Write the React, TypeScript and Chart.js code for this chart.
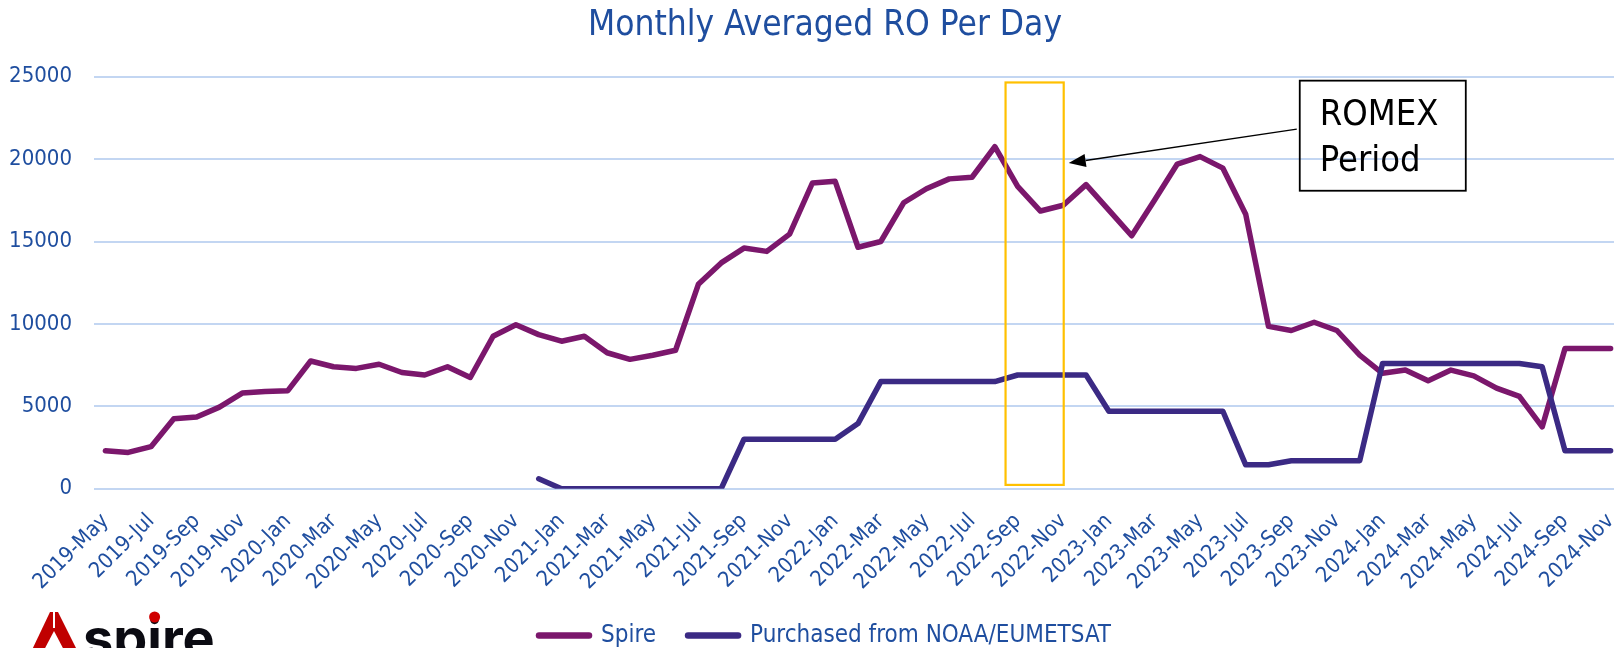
import React, { useEffect, useRef } from 'react';
import { Chart, registerables } from 'chart.js';

Chart.register(...registerables);

// ---------- data ----------
const months: string[] = [
  '2019-May', '2019-Jun', '2019-Jul', '2019-Aug', '2019-Sep', '2019-Oct', '2019-Nov', '2019-Dec',
  '2020-Jan', '2020-Feb', '2020-Mar', '2020-Apr', '2020-May', '2020-Jun', '2020-Jul', '2020-Aug', '2020-Sep', '2020-Oct', '2020-Nov', '2020-Dec',
  '2021-Jan', '2021-Feb', '2021-Mar', '2021-Apr', '2021-May', '2021-Jun', '2021-Jul', '2021-Aug', '2021-Sep', '2021-Oct', '2021-Nov', '2021-Dec',
  '2022-Jan', '2022-Feb', '2022-Mar', '2022-Apr', '2022-May', '2022-Jun', '2022-Jul', '2022-Aug', '2022-Sep', '2022-Oct', '2022-Nov', '2022-Dec',
  '2023-Jan', '2023-Feb', '2023-Mar', '2023-Apr', '2023-May', '2023-Jun', '2023-Jul', '2023-Aug', '2023-Sep', '2023-Oct', '2023-Nov', '2023-Dec',
  '2024-Jan', '2024-Feb', '2024-Mar', '2024-Apr', '2024-May', '2024-Jun', '2024-Jul', '2024-Aug', '2024-Sep', '2024-Oct', '2024-Nov',
];

const spireValues: number[] = [
  2300, 2200, 2550, 4250, 4350, 4950, 5800, 5900,
  5950, 7750, 7400, 7300, 7550, 7050, 6900, 7400, 6750, 9250, 9950, 9350,
  8950, 9250, 8250, 7850, 8100, 8400, 12400, 13700, 14600, 14400, 15450, 18550,
  18650, 14650, 15000, 17350, 18200, 18800, 18900, 20750, 18350, 16850, 17200, 18450,
  16900, 15350, 17500, 19700, 20150, 19450, 16650, 9850, 9600, 10100, 9600, 8100,
  7000, 7200, 6550, 7200, 6850, 6100, 5600, 3750, 8500, 8500, 8500,
];

const noaaValues: (number | null)[] = [
  null, null, null, null, null, null, null, null,
  null, null, null, null, null, null, null, null, null, null, null, 600,
  0, 0, 0, 0, 0, 0, 0, 0, 3000, 3000, 3000, 3000,
  3000, 3950, 6500, 6500, 6500, 6500, 6500, 6500, 6900, 6900, 6900, 6900,
  4700, 4700, 4700, 4700, 4700, 4700, 1450, 1450, 1700, 1700, 1700, 1700,
  7600, 7600, 7600, 7600, 7600, 7600, 7600, 7400, 2300, 2300, 2300,
];

const yTickValues: number[] = [0, 5000, 10000, 15000, 20000, 25000];

const seriesNames = ['Spire', 'Purchased from NOAA/EUMETSAT'];
const chartTitle = 'Monthly Averaged RO Per Day';
const noteLines = ['ROMEX', 'Period'];

// ---------- styles / annotation placement ----------
const BLUE = '#1F4E9F';
const SPIRE_COLOR = '#7B176C';
const NOAA_COLOR = '#3B2A84';
const GRID = '#C3D6F2';
const FONT = "'DejaVu Sans Condensed', 'DejaVu Sans', sans-serif";

const romexSpan = { fromIndex: 39.47, toIndex: 42.02, top: 24650, bottom: 230 };
const noteBox = { fromIndex: 52.37, toIndex: 59.65, top: 24760, bottom: 18080 };
const noteText = { index: 53.25, lineValues: [22060, 19270] };
const arrow = { fromIndex: 52.24, fromValue: 21820, toIndex: 42.24, toValue: 19760 };

const overlayPlugin = {
  id: 'overlay',
  afterDraw(chart: any) {
    const { ctx } = chart;
    const x = chart.scales.x;
    const y = chart.scales.y;
    ctx.save();

    // ROMEX period highlight
    const bx0 = x.getPixelForValue(romexSpan.fromIndex);
    const bx1 = x.getPixelForValue(romexSpan.toIndex);
    const by0 = y.getPixelForValue(romexSpan.top);
    const by1 = y.getPixelForValue(romexSpan.bottom);
    ctx.strokeStyle = '#FFC000';
    ctx.lineWidth = 2.2;
    ctx.strokeRect(bx0, by0, bx1 - bx0, by1 - by0);

    // note box
    const nx0 = x.getPixelForValue(noteBox.fromIndex);
    const nx1 = x.getPixelForValue(noteBox.toIndex);
    const ny0 = y.getPixelForValue(noteBox.top);
    const ny1 = y.getPixelForValue(noteBox.bottom);
    ctx.strokeStyle = '#000';
    ctx.lineWidth = 1.8;
    ctx.strokeRect(nx0, ny0, nx1 - nx0, ny1 - ny0);
    ctx.fillStyle = '#000';
    ctx.font = `36px ${FONT}`;
    ctx.textBaseline = 'alphabetic';
    ctx.textAlign = 'left';
    const tx = x.getPixelForValue(noteText.index);
    noteLines.forEach((t, i) => ctx.fillText(t, tx, y.getPixelForValue(noteText.lineValues[i])));

    // arrow
    const ax0 = x.getPixelForValue(arrow.fromIndex);
    const ay0 = y.getPixelForValue(arrow.fromValue);
    const ax1 = x.getPixelForValue(arrow.toIndex);
    const ay1 = y.getPixelForValue(arrow.toValue);
    const ang = Math.atan2(ay1 - ay0, ax1 - ax0);
    const headLen = 17;
    const headHalf = 6.5;
    const bxh = ax1 - Math.cos(ang) * headLen;
    const byh = ay1 - Math.sin(ang) * headLen;
    ctx.lineWidth = 1.4;
    ctx.beginPath();
    ctx.moveTo(ax0, ay0);
    ctx.lineTo(bxh, byh);
    ctx.stroke();
    ctx.beginPath();
    ctx.moveTo(ax1, ay1);
    ctx.lineTo(bxh + Math.sin(ang) * headHalf, byh - Math.cos(ang) * headHalf);
    ctx.lineTo(bxh - Math.sin(ang) * headHalf, byh + Math.cos(ang) * headHalf);
    ctx.closePath();
    ctx.fill();

    // logo (bottom-left)
    ctx.fillStyle = '#C00000';
    ctx.beginPath();
    ctx.moveTo(31, 652);
    ctx.lineTo(50, 612);
    ctx.lineTo(58, 612);
    ctx.lineTo(78, 652);
    ctx.closePath();
    ctx.fill();
    ctx.fillStyle = '#FFFFFF';
    ctx.beginPath();
    ctx.moveTo(43, 652);
    ctx.lineTo(54, 631);
    ctx.lineTo(65, 652);
    ctx.closePath();
    ctx.fill();
    ctx.fillRect(53, 611, 2, 17);

    ctx.fillStyle = '#0B0B12';
    ctx.font = "700 54px Inter, 'Open Sans', sans-serif";
    ctx.fillText('spire', 83, 657);
    const dotX = 83 + ctx.measureText('sp').width + ctx.measureText('i').width / 2;
    ctx.fillStyle = '#D00000';
    ctx.beginPath();
    ctx.arc(dotX, 617, 5.5, 0, Math.PI * 2);
    ctx.fill();

    ctx.restore();
  },
};

export default function App() {
  const ref = useRef<HTMLCanvasElement>(null);

  useEffect(() => {
    const canvas = ref.current;
    if (!canvas) return;
    const baseLabels = (Chart as any).defaults.plugins.legend.labels.generateLabels;
    const chart = new Chart(canvas, {
      type: 'line',
      data: {
        labels: months,
        datasets: [
          {
            label: seriesNames[0],
            data: spireValues,
            borderColor: SPIRE_COLOR,
            backgroundColor: SPIRE_COLOR,
            borderWidth: 5.5,
            pointRadius: 0,
            pointHoverRadius: 0,
            tension: 0,
            borderCapStyle: 'round',
            borderJoinStyle: 'round',
            order: 1,
          },
          {
            label: seriesNames[1],
            data: noaaValues,
            borderColor: NOAA_COLOR,
            backgroundColor: NOAA_COLOR,
            borderWidth: 5.5,
            pointRadius: 0,
            pointHoverRadius: 0,
            tension: 0,
            borderCapStyle: 'round',
            borderJoinStyle: 'round',
            order: 0,
          },
        ],
      },
      options: {
        responsive: false,
        animation: false,
        events: [],
        layout: { padding: { left: 8, right: 0, top: 0, bottom: 0 } },
        plugins: {
          title: {
            display: true,
            text: chartTitle,
            color: BLUE,
            font: { family: FONT, size: 35, weight: 'normal', lineHeight: 1.2 },
            padding: { top: 5, bottom: 29.7 },
          },
          legend: {
            position: 'bottom',
            maxHeight: 56.5,
            labels: {
              usePointStyle: true,
              pointStyle: 'line',
              pointStyleWidth: 50,
              color: BLUE,
              font: { family: FONT, size: 24 },
              padding: 32,
              sort: (a: any, b: any) => a.datasetIndex - b.datasetIndex,
              generateLabels: (c: any) =>
                baseLabels(c).map((l: any) => ({ ...l, lineWidth: 6.5, lineCap: 'round' })),
            },
          },
          tooltip: { enabled: false },
        },
        scales: {
          x: {
            type: 'category',
            offset: true,
            grid: { display: false, drawTicks: false },
            border: { display: false },
            ticks: {
              autoSkip: false,
              maxRotation: 45,
              minRotation: 45,
              padding: 20,
              color: BLUE,
              font: { family: FONT, size: 21.5 },
              callback: (_v: any, i: number) => (i % 2 === 0 ? months[i] : ''),
            },
            afterFit: (s: any) => {
              s.height = 102.8;
              s.paddingLeft = 0;
              s.paddingRight = 20;
            },
          },
          y: {
            min: 0,
            max: 25000,
            grid: { color: GRID, lineWidth: 2, drawTicks: false },
            border: { display: false },
            ticks: {
              padding: 22,
              color: BLUE,
              font: { family: FONT, size: 22 },
              callback: (v: any) => String(v),
            },
            afterBuildTicks: (s: any) => {
              s.ticks = yTickValues.map((v) => ({ value: v }));
            },
            afterFit: (s: any) => {
              s.width = 86;
              s.paddingTop = 0;
              s.paddingBottom = 0;
            },
          },
        },
      },
      plugins: [overlayPlugin],
    } as any);
    return () => chart.destroy();
  }, []);

  return (
    <div
      style={{
        position: 'fixed',
        left: 0,
        top: 0,
        width: 1614,
        height: 648,
        overflow: 'hidden',
        background: '#FFFFFF',
      }}
    >
      <canvas ref={ref} width={1642} height={648} style={{ display: 'block', width: 1642, height: 648 }} />
    </div>
  );
}
